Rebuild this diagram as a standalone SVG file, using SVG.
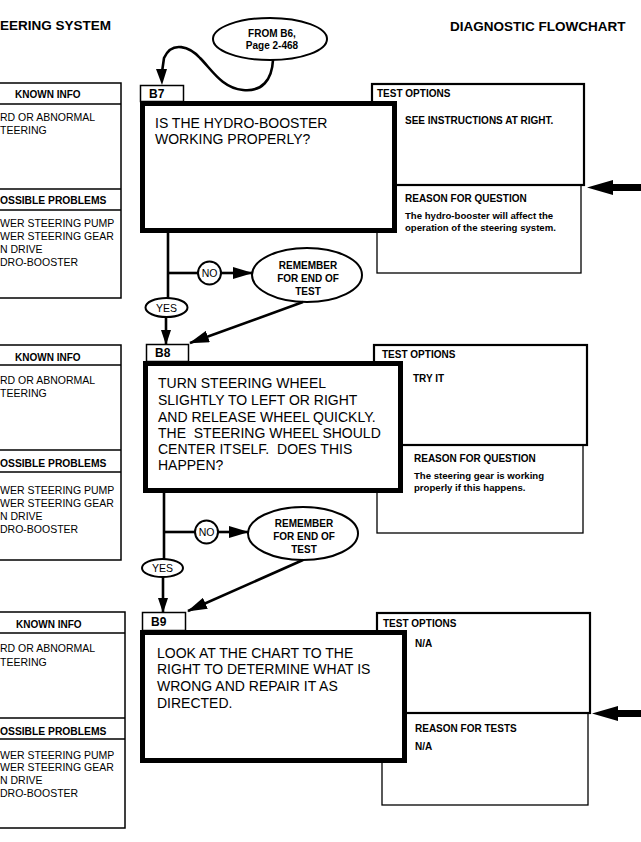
<svg xmlns="http://www.w3.org/2000/svg" width="641" height="842" viewBox="0 0 641 842">
<defs>
<style>
text{font-family:"Liberation Sans",Arial,Helvetica,sans-serif;fill:#000}
.hdr{font-size:13.5px;font-weight:bold}
.q{font-size:14px}
.tab{font-size:12px;font-weight:bold}
.b10{font-size:10px;font-weight:bold}
.sm{font-size:9.6px;font-weight:bold}
.pl{font-size:10.5px}
.ph{font-size:10.3px;font-weight:bold}
.oval{font-size:10px;font-weight:bold}
.yn{font-size:10.5px}
.thin{fill:#fff;stroke:#000;stroke-width:1.5}
.thick{fill:#fff;stroke:#000;stroke-width:5}
.mid{fill:none;stroke:#000;stroke-width:2.2}
.ln{fill:none;stroke:#000;stroke-width:1.3}
.con{fill:none;stroke:#000;stroke-width:2.6}
.ell{fill:#fff;stroke:#000;stroke-width:2}
</style>
<marker id="ah" markerUnits="userSpaceOnUse" markerWidth="20" markerHeight="12" viewBox="0 0 20 12" refX="19" refY="6" orient="auto">
<path d="M0,0 L20,6 L0,12 z" fill="#000"/>
</marker>
<marker id="ahs" markerUnits="userSpaceOnUse" markerWidth="15" markerHeight="10" viewBox="0 0 15 10" refX="14" refY="5" orient="auto">
<path d="M0,0 L15,5 L0,10 z" fill="#000"/>
</marker>
</defs>
<rect width="641" height="842" fill="#fff"/>

<text class="hdr" x="0" y="30">EERING SYSTEM</text>
<text class="hdr" x="450" y="31">DIAGNOSTIC FLOWCHART</text>

<!-- Left panels -->
<g id="known1">
<rect class="thin" x="-10" y="83" width="131" height="215"/>
<line class="ln" x1="-10" y1="104" x2="121" y2="104"/>
<line class="ln" x1="-10" y1="189" x2="121" y2="189"/>
<line class="ln" x1="-10" y1="210" x2="121" y2="210"/>
<text class="b10" x="15" y="98">KNOWN INFO</text>
<text class="pl" x="0" y="121">RD OR ABNORMAL</text>
<text class="pl" x="0" y="134">TEERING</text>
<text class="ph" x="0" y="204">OSSIBLE PROBLEMS</text>
<text class="pl" x="0" y="227">WER STEERING PUMP</text>
<text class="pl" x="0" y="240">WER STEERING GEAR</text>
<text class="pl" x="0" y="253">N DRIVE</text>
<text class="pl" x="0" y="266">DRO-BOOSTER</text>
</g>
<g id="known2">
<rect class="thin" x="-10" y="345" width="131" height="215"/>
<line class="ln" x1="-10" y1="365" x2="121" y2="365"/>
<line class="ln" x1="-10" y1="450" x2="121" y2="450"/>
<line class="ln" x1="-10" y1="472" x2="121" y2="472"/>
<text class="b10" x="15" y="361">KNOWN INFO</text>
<text class="pl" x="0" y="384">RD OR ABNORMAL</text>
<text class="pl" x="0" y="397">TEERING</text>
<text class="ph" x="0" y="467">OSSIBLE PROBLEMS</text>
<text class="pl" x="0" y="494">WER STEERING PUMP</text>
<text class="pl" x="0" y="507">WER STEERING GEAR</text>
<text class="pl" x="0" y="520">N DRIVE</text>
<text class="pl" x="0" y="533">DRO-BOOSTER</text>
</g>
<g id="known3">
<rect class="thin" x="-10" y="612" width="135" height="216"/>
<line class="ln" x1="-10" y1="633" x2="125" y2="633"/>
<line class="ln" x1="-10" y1="718" x2="125" y2="718"/>
<line class="ln" x1="-10" y1="739" x2="125" y2="739"/>
<text class="b10" x="16" y="628">KNOWN INFO</text>
<text class="pl" x="0" y="652">RD OR ABNORMAL</text>
<text class="pl" x="0" y="666">TEERING</text>
<text class="ph" x="0" y="735">OSSIBLE PROBLEMS</text>
<text class="pl" x="0" y="759">WER STEERING PUMP</text>
<text class="pl" x="0" y="771">WER STEERING GEAR</text>
<text class="pl" x="0" y="784">N DRIVE</text>
<text class="pl" x="0" y="797">DRO-BOOSTER</text>
</g>

<!-- Test option boxes -->
<g id="opts7">
<rect class="mid" x="372" y="84" width="212" height="101"/>
<rect class="ln" x="377" y="185" width="204" height="88"/>
<text class="b10" x="377" y="97">TEST OPTIONS</text>
<text class="b10" x="405" y="124">SEE INSTRUCTIONS AT RIGHT.</text>
<text class="b10" x="405" y="202">REASON FOR QUESTION</text>
<text class="sm" x="405" y="219">The hydro-booster will affect the</text>
<text class="sm" x="405" y="231">operation of the steering system.</text>
</g>
<g id="opts8">
<rect class="mid" x="374" y="345" width="213" height="100"/>
<rect class="ln" x="377" y="445" width="206" height="88"/>
<text class="b10" x="382" y="358">TEST OPTIONS</text>
<text class="b10" x="413" y="382">TRY IT</text>
<text class="b10" x="414" y="462">REASON FOR QUESTION</text>
<text class="sm" x="414" y="479">The steering gear is working</text>
<text class="sm" x="414" y="491">properly if this happens.</text>
</g>
<g id="opts9">
<rect class="mid" x="377" y="613" width="213" height="100"/>
<rect class="ln" x="382" y="713" width="206" height="92"/>
<text class="b10" x="383" y="627">TEST OPTIONS</text>
<text class="b10" x="415" y="647">N/A</text>
<text class="b10" x="415" y="732">REASON FOR TESTS</text>
<text class="b10" x="415" y="750">N/A</text>
</g>

<!-- Question boxes -->
<g id="B7">
<rect class="thin" x="140.5" y="85.5" width="43" height="16"/>
<text class="tab" x="149" y="98">B7</text>
<rect class="thick" x="142.5" y="103.5" width="252" height="127"/>
<text class="q" x="155" y="128">IS THE HYDRO-BOOSTER</text>
<text class="q" x="155" y="144">WORKING PROPERLY?</text>
</g>
<g id="B8">
<rect class="thin" x="146.5" y="344.5" width="42" height="17"/>
<text class="tab" x="155" y="357">B8</text>
<rect class="thick" x="145.5" y="363.5" width="255" height="127"/>
<text class="q" x="158" y="388">TURN STEERING WHEEL</text>
<text class="q" x="158" y="405">SLIGHTLY TO LEFT OR RIGHT</text>
<text class="q" x="158" y="422">AND RELEASE WHEEL QUICKLY.</text>
<text class="q" x="158" y="438" xml:space="preserve">THE  STEERING WHEEL SHOULD</text>
<text class="q" x="158" y="454" xml:space="preserve">CENTER ITSELF.  DOES THIS</text>
<text class="q" x="158" y="470">HAPPEN?</text>
</g>
<g id="B9">
<rect class="thin" x="142.5" y="612.5" width="43" height="18"/>
<text class="tab" x="151" y="626">B9</text>
<rect class="thick" x="142.5" y="632.5" width="262" height="128"/>
<text class="q" x="157" y="658">LOOK AT THE CHART TO THE</text>
<text class="q" x="157" y="674">RIGHT TO DETERMINE WHAT IS</text>
<text class="q" x="157" y="691">WRONG AND REPAIR IT AS</text>
<text class="q" x="157" y="708">DIRECTED.</text>
</g>

<!-- Start / remember ovals -->
<g id="from-b6">
<ellipse class="ell" cx="270" cy="39" rx="57" ry="21"/>
<text class="oval" x="272" y="37" text-anchor="middle" font-size="9.5">FROM B6,</text>
<text class="oval" x="272" y="49" text-anchor="middle" font-size="9.5">Page 2-468</text>
</g>
<g id="remember7">
<ellipse class="ell" cx="307" cy="275" rx="55" ry="27"/>
<text class="oval" x="308" y="269" text-anchor="middle">REMEMBER</text>
<text class="oval" x="308" y="282" text-anchor="middle">FOR END OF</text>
<text class="oval" x="308" y="295" text-anchor="middle">TEST</text>
</g>
<g id="remember8">
<ellipse class="ell" cx="303" cy="533.5" rx="55" ry="26.5"/>
<text class="oval" x="304" y="527" text-anchor="middle">REMEMBER</text>
<text class="oval" x="304" y="540" text-anchor="middle">FOR END OF</text>
<text class="oval" x="304" y="553" text-anchor="middle">TEST</text>
</g>

<!-- Connectors -->
<g id="connectors">
<path class="con" d="M273 60 C272 80,262 92,243 90 C222 88,212 70,200 58 C190 47,172 40,164 58 L162 72" fill="none"/>
<path d="M156 69 L167 69 L162 85 z" fill="#000"/>

<line class="con" x1="168" y1="233" x2="168" y2="298"/>
<line class="con" x1="168" y1="273" x2="198" y2="273"/>
<line class="con" x1="221" y1="273" x2="252" y2="273" marker-end="url(#ah)"/>
<line class="con" x1="166" y1="317" x2="166" y2="344" marker-end="url(#ahs)"/>
<line class="con" x1="303" y1="302" x2="190" y2="343" marker-end="url(#ah)"/>

<line class="con" x1="164" y1="493" x2="164" y2="559"/>
<line class="con" x1="164" y1="532" x2="195" y2="532"/>
<line class="con" x1="218" y1="532" x2="248" y2="532" marker-end="url(#ah)"/>
<line class="con" x1="163" y1="577" x2="163" y2="612" marker-end="url(#ahs)"/>
<line class="con" x1="303" y1="560" x2="188" y2="611" marker-end="url(#ah)"/>

<path d="M641 184 L613 184 L613 180 L587 187.5 L613 195 L613 191 L641 191 z" fill="#000"/>
<path d="M641 710 L618 710 L618 706 L592 713.5 L618 721 L618 717 L641 717 z" fill="#000"/>
</g>

<!-- YES / NO labels -->
<g id="no7"><circle class="ell" cx="209.5" cy="273" r="11.5"/><text class="yn" x="209.5" y="277" text-anchor="middle">NO</text></g>
<g id="yes7"><ellipse class="ell" cx="166.5" cy="307.5" rx="21" ry="9.5"/><text class="yn" x="166.5" y="311.5" text-anchor="middle">YES</text></g>
<g id="no8"><circle class="ell" cx="206.5" cy="532" r="11.5"/><text class="yn" x="206.5" y="536" text-anchor="middle">NO</text></g>
<g id="yes8"><ellipse class="ell" cx="162.5" cy="568" rx="20.5" ry="9"/><text class="yn" x="162.5" y="572" text-anchor="middle">YES</text></g>
</svg>
